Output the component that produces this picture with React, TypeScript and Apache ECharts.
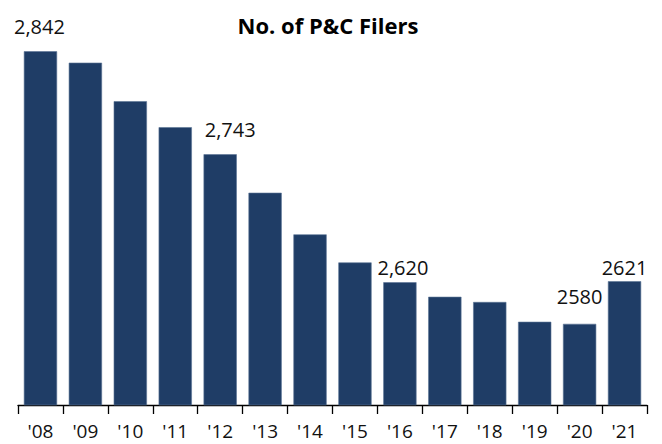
import React, { useEffect, useRef } from "react";
import * as echarts from "echarts";

const categories = ["'08", "'09", "'10", "'11", "'12", "'13", "'14", "'15", "'16", "'17", "'18", "'19", "'20", "'21"];
const filers = [2842, 2831, 2794, 2769, 2743, 2706, 2666, 2639, 2620, 2606, 2601, 2582, 2580, 2621];
const valueLabels = ["2,842", "", "", "", "2,743", "", "", "", "2,620", "", "", "", "2580", "2621"];
const labelOffsets: [number, number][] = [
  [-1, -15], [0, 0], [0, 0], [0, 0], [10, -15], [0, 0], [0, 0], [0, 0],
  [3, -5], [0, 0], [0, 0], [0, 0], [0, -17], [0, -4],
];

export default function App() {
  const ref = useRef<HTMLDivElement>(null);
  useEffect(() => {
    if (!ref.current) return;
    const chart = echarts.init(ref.current, null, { renderer: "svg" });
    const font = "'Open Sans', sans-serif";
    chart.setOption({
      animation: false,
      title: {
        text: "No. of P&C Filers",
        left: 323,
        top: 8,
        textAlign: "center",
        textStyle: { fontFamily: font, fontWeight: "bold", fontSize: 22, lineHeight: 24, color: "#000" },
      },
      grid: { left: 18, right: 15, top: 45, bottom: 39, containLabel: false },
      xAxis: {
        type: "category",
        data: categories,
        axisLine: { lineStyle: { color: "#000", width: 1.3 } },
        axisTick: { show: true, length: 9, lineStyle: { color: "#000", width: 1.3 } },
        axisLabel: { fontFamily: font, fontSize: 19, lineHeight: 19, color: "#111", margin: 16, interval: 0 },
      },
      yAxis: {
        type: "value",
        min: 2502,
        max: 2848,
        show: false,
        splitLine: { show: false },
      },
      series: [
        {
          type: "bar",
          barCategoryGap: "26%",
          itemStyle: { color: "#1F3D66", borderColor: "#5a7396", borderWidth: 0.6 },
          data: filers.map((v, i) => ({
            value: v,
            label: {
              show: valueLabels[i] !== "",
              position: "top",
              distance: 0,
              formatter: valueLabels[i],
              offset: labelOffsets[i],
              fontFamily: font,
              fontSize: 20,
              lineHeight: 20,
              color: "#111",
            },
          })),
        },
      ],
    });
    return () => chart.dispose();
  }, []);
  return <div ref={ref} style={{ width: 662, height: 444, position: "absolute", left: 0, top: 0 }} />;
}
